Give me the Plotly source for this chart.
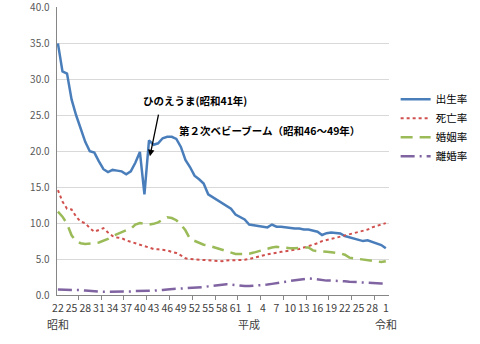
import plotly.graph_objects as go

# Categories: Showa 22 .. 63, Heisei 1 .. 30, Reiwa 1
years = [f"昭和{n}" for n in range(22, 64)] + [f"平成{n}" for n in range(1, 31)] + ["令和1"]
tick_labels = [str(n) for n in range(22, 64)] + [str(n) for n in range(1, 31)] + ["1"]

birth = [35.0, 31.1, 30.8, 27.2, 25.0, 23.0, 21.3, 20.0, 19.8, 18.6,
         17.5, 17.1, 17.4, 17.3, 17.2, 16.8, 17.2, 18.4, 19.9, 14.0,
         21.5, 20.9, 21.1, 21.8, 22.0, 22.0, 21.7, 20.6, 18.8, 17.8,
         16.6, 16.1, 15.5, 14.0, 13.6, 13.2, 12.8, 12.4, 12.0, 11.2,
         10.9, 10.5, 9.8, 9.7, 9.6, 9.4, 9.4, 9.8, 9.5, 9.5,
         9.4, 9.35, 9.25, 9.25, 9.1, 9.1, 8.9, 8.8, 8.35, 8.6,
         8.7, 8.65, 8.55, 8.2, 8.0, 7.9, 7.65, 7.5, 7.6, 7.35,
         7.1, 6.95, 6.5]
death = [14.6, 13.0, 12.0, 11.9, 10.9, 10.2, 10.0, 9.3, 8.8, 9.0,
         9.3, 8.7, 8.2, 8.0, 7.9, 7.6, 7.4, 7.2, 7.0, 6.7,
         6.5, 6.4, 6.35, 6.3, 6.2, 6.0, 5.85, 5.5, 5.1, 5.0,
         4.95, 4.85, 4.8, 4.75, 4.7, 4.65, 4.7, 4.8, 4.8, 4.8,
         4.8, 4.9, 5.0, 5.2, 5.4, 5.5, 5.65, 5.8, 5.9, 6.0,
         6.1, 6.2, 6.25, 6.4, 6.6, 6.8, 6.9, 7.2, 7.5, 7.6,
         7.8, 7.95, 8.1, 8.25, 8.4, 8.6, 8.8, 8.95, 9.1, 9.4,
         9.6, 9.8, 10.0]
marriage = [11.6, 10.9, 9.9, 8.3, 7.5, 7.2, 7.1, 7.1, 7.2, 7.3,
            7.5, 7.8, 8.2, 8.5, 8.8, 9.0, 9.2, 9.8, 10.0, 9.9,
            9.8, 9.9, 10.1, 10.5, 10.8, 10.7, 10.4, 9.8, 9.0, 7.8,
            7.5, 7.25, 7.0, 6.9, 6.7, 6.5, 6.25, 6.0, 5.85, 5.7,
            5.7, 5.7, 5.75, 5.9, 6.1, 6.3, 6.4, 6.6, 6.7, 6.6,
            6.5, 6.5, 6.5, 6.6, 6.6, 6.6, 6.2, 6.1, 6.0, 6.0,
            5.95, 5.9, 5.8, 5.6, 5.2, 5.1, 5.0, 4.9, 4.85, 4.8,
            4.7, 4.6, 4.7]
divorce = [0.75, 0.75, 0.72, 0.7, 0.7, 0.68, 0.62, 0.55, 0.52, 0.48,
           0.46, 0.45, 0.45, 0.45, 0.45, 0.46, 0.48, 0.55, 0.6, 0.6,
           0.6, 0.6, 0.62, 0.7, 0.78, 0.82, 0.85, 0.88, 0.9, 0.93,
           0.96, 1.0, 1.1, 1.2, 1.28, 1.35, 1.45, 1.5, 1.45, 1.35,
           1.28, 1.25, 1.25, 1.28, 1.33, 1.4, 1.45, 1.55, 1.62, 1.72,
           1.85, 1.95, 2.05, 2.15, 2.25, 2.3, 2.25, 2.15, 2.05, 2.0,
           2.0, 2.0, 1.95, 1.9, 1.85, 1.8, 1.78, 1.72, 1.7, 1.68,
           1.62, 1.6, 1.6]

series_names = ["出生率", "死亡率", "婚姻率", "離婚率"]
era_labels = [("昭和", 0), ("平成", 42), ("令和", 72)]
y_ticks = [0, 5, 10, 15, 20, 25, 30, 35, 40]

FONT = "Noto Sans CJK JP"
x = list(range(len(years)))

fig = go.Figure()
styles = [
    dict(color="#4A7EBB", width=2.5, dash="solid"),
    dict(color="#D0504D", width=2, dash="dot"),
    dict(color="#9BBB59", width=2.5, dash="12px,7px"),
    dict(color="#8064A2", width=2.5, dash="14px,5px,2px,5px"),
]
for name, vals, st in zip(series_names, [birth, death, marriage, divorce], styles):
    fig.add_trace(go.Scatter(x=x, y=vals, name=name, mode="lines",
                             line=st, customdata=years, cliponaxis=False,
                             hovertemplate="%{customdata}: %{y}<extra>" + name + "</extra>"))

tv = list(range(0, len(years), 3))
fig.update_xaxes(
    range=[-0.2, 72.7], tickmode="array", tickvals=tv,
    ticktext=[tick_labels[i] for i in tv], tickangle=0, automargin=False,
    showgrid=False, zeroline=False, showline=True, linecolor="#868686", linewidth=1,
    ticks="", tickfont=dict(size=10.5, color="#404040", family=FONT),
    ticklabelstandoff=3,
    minor=dict(tickmode="linear", tick0=-0.5, dtick=5, ticks="outside",
               ticklen=4, tickcolor="#868686", showgrid=False),
)
fig.update_yaxes(
    range=[0, 40.06], tickmode="array", tickvals=y_ticks,
    ticktext=[f"{v:.1f}  " for v in y_ticks], automargin=False,
    showgrid=True, gridcolor="#D9D9D9", gridwidth=1, zeroline=False,
    showline=True, linecolor="#868686", linewidth=1, ticks="",
    ticklabeloverflow="allow",
    tickfont=dict(size=10, color="#595959", family=FONT),
)

for label, idx in era_labels:
    fig.add_annotation(x=idx, y=-0.1, xref="x", yref="paper", text=label,
                       showarrow=False, font=dict(size=11, color="#404040", family=FONT),
                       xanchor="center", yanchor="middle")

fig.add_annotation(x=18.3, y=27.1, xref="x", yref="y", text="<b>ひのえうま(昭和41年)</b>",
                   showarrow=False, xanchor="left", yanchor="middle",
                   font=dict(size=10.5, color="#000000", family=FONT))
fig.add_annotation(x=20.2, y=19.3, ax=22.15, ay=25.3, xref="x", yref="y",
                   axref="x", ayref="y", text="", showarrow=True,
                   arrowhead=2, arrowsize=1, arrowwidth=1.3, arrowcolor="#000000")
fig.add_annotation(x=26.2, y=22.9, xref="x", yref="y", text="<b>第２次ベビーブーム（昭和46～49年）</b>",
                   showarrow=False, xanchor="left", yanchor="middle",
                   font=dict(size=10.5, color="#000000", family=FONT))

fig.update_layout(
    width=480, height=344,
    margin=dict(l=57, r=84, t=7, b=49),
    paper_bgcolor="white", plot_bgcolor="white",
    font=dict(family=FONT, color="#404040"),
    showlegend=True,
    legend=dict(x=1.02, y=0.73, xanchor="left", yanchor="top",
                font=dict(size=10.5, color="#000000", family=FONT),
                bgcolor="rgba(0,0,0,0)", itemwidth=30, tracegroupgap=4),
)

fig.write_html("out.html")
